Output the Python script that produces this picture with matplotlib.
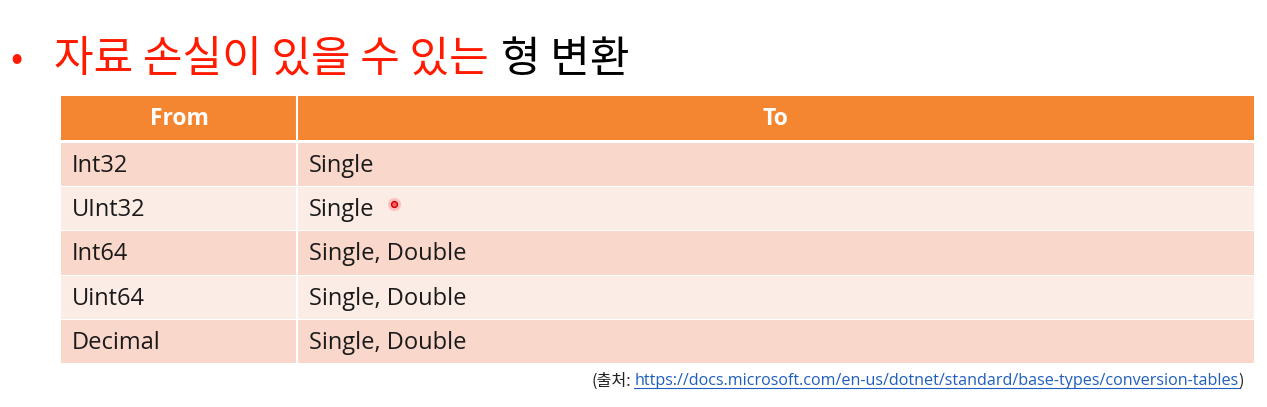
import matplotlib
matplotlib.use("Agg")
import matplotlib.pyplot as plt
from matplotlib.patches import Rectangle

plt.rcParams["font.family"] = ["Noto Sans CJK KR", "DejaVu Sans"]

# table content
header = ["From", "To"]
from_types = ["Int32", "UInt32", "Int64", "Uint64", "Decimal"]
to_types = ["Single", "Single", "Single, Double", "Single, Double", "Single, Double"]

title_red = "자료 손실이 있을 수 있는"
title_black = "형 변환"
source_prefix = "(출처: "
source_url = "https://docs.microsoft.com/en-us/dotnet/standard/base-types/conversion-tables"

ORANGE = "#F58631"
ROW_DARK = "#F9D8CB"
ROW_LIGHT = "#FCECE6"
RED = "#FF1A00"

W, H = 1267, 407
fig = plt.figure(figsize=(W / 100, H / 100), dpi=100)
ax = fig.add_axes([0, 0, 1, 1])
ax.set_xlim(0, W)
ax.set_ylim(H, 0)
ax.axis("off")

# title
ax.text(10, 60, "•", color=RED, fontsize=26, va="center")
t = ax.text(54, 60, title_red, color=RED, fontsize=31, va="center",
            fontweight="medium")
fig.canvas.draw()
bb = t.get_window_extent().transformed(ax.transData.inverted())
ax.text(bb.x1 + 12, 60, title_black, color="black", fontsize=31, va="center",
        fontweight="light")

# table geometry (pixels)
left, right, split = 61, 1254, 297
head_top, head_bot = 96, 140
row_top0, row_h = 143, 44.2
tfont = ["Open Sans", "DejaVu Sans"]

ax.add_patch(Rectangle((left, head_top), right - left, head_bot - head_top,
                       color=ORANGE, lw=0))
ax.plot([split, split], [head_top, head_bot], color="white", lw=1.5)
ax.text((left + split) / 2, (head_top + head_bot) / 2 + 1, header[0], color="white",
        fontsize=16.5, fontweight="bold", ha="center", va="center", family=tfont)
ax.text((split + right) / 2, (head_top + head_bot) / 2 + 1, header[1], color="white",
        fontsize=16.5, fontweight="bold", ha="center", va="center", family=tfont)

for i, (src, dst) in enumerate(zip(from_types, to_types)):
    y0 = row_top0 + i * row_h
    ax.add_patch(Rectangle((left, y0), right - left, row_h - 1,
                           color=ROW_DARK if i % 2 == 0 else ROW_LIGHT, lw=0))
    yc = y0 + row_h / 2 + 1
    ax.text(left + 11, yc, src, fontsize=17, va="center", color="#1a1a1a",
            family=tfont)
    ax.text(split + 12, yc, dst, fontsize=17, va="center", color="#1a1a1a",
            family=tfont)
    ax.plot([split, split], [y0, y0 + row_h - 1], color="white", lw=1.5)

# laser pointer dot
ax.scatter([394], [204], s=90, color="#FF9A9A", alpha=0.5, lw=0, zorder=5)
ax.scatter([394], [204], s=18, facecolor="#FF6060", edgecolor="#D00000", lw=1, zorder=6)

# source note
fs = 11.6
end = ax.text(1244, 381, ")", fontsize=fs, ha="right", va="center", color="#222222")
fig.canvas.draw()
eb = end.get_window_extent().transformed(ax.transData.inverted())
url = ax.text(eb.x0, 381, source_url, fontsize=fs, ha="right", va="center",
              color="#1F5FBF", family=tfont)
fig.canvas.draw()
ub = url.get_window_extent().transformed(ax.transData.inverted())
ax.plot([ub.x0, ub.x1], [ub.y0 - 1, ub.y0 - 1], color="#1F5FBF", lw=0.8)
ax.text(ub.x0 - 3, 381, source_prefix.rstrip(), fontsize=fs, ha="right", va="center",
        color="#222222")

fig.savefig("out.png", dpi=100)
